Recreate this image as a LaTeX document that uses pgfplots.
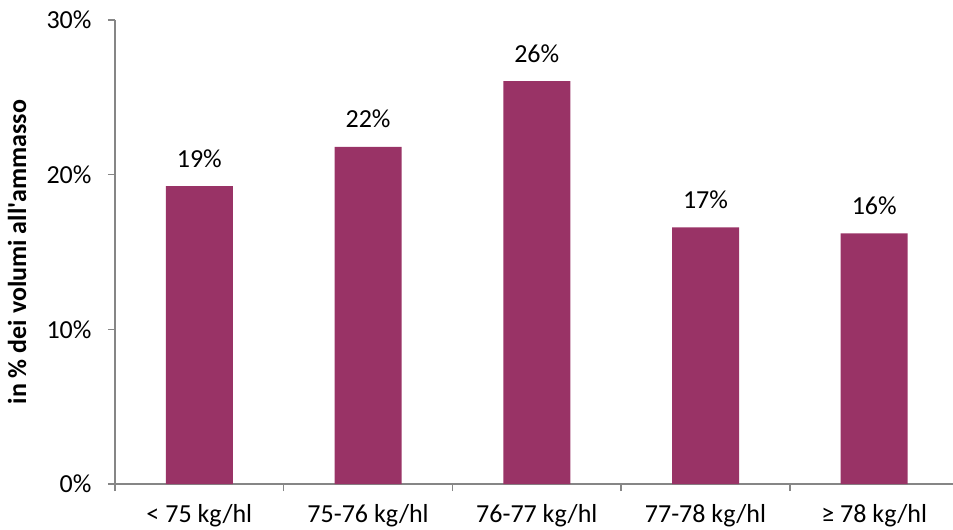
\documentclass[border=0pt]{standalone}
\usepackage{pgfplots}
\pgfplotsset{compat=1.18}
\usepackage{fontspec}
\setmainfont{Carlito}
\definecolor{barcol}{HTML}{993366}
\definecolor{axcol}{HTML}{868686}
\begin{document}
\begin{tikzpicture}[font=\fontsize{26bp}{31bp}\selectfont]
\path[use as bounding box] (-115bp,-46bp) rectangle (838bp,484bp);
\begin{axis}[
  at={(0,0)}, anchor=south west,
  scale only axis,
  width=838bp, height=464bp,
  xmin=-0.5, xmax=4.467,
  ymin=0, ymax=30,
  axis x line*=bottom, axis y line*=left,
  axis line style={axcol, line width=1.5bp},
  every tick/.style={axcol, line width=1.5bp},
  tick align=outside,
  xtick={0,1,2,3,4},
  xticklabels={{< 75 kg/hl},{75-76 kg/hl},{76-77 kg/hl},{77-78 kg/hl},{≥ 78 kg/hl}},
  major x tick style={draw=none},
  minor xtick={-0.5,0.5,1.5,2.5,3.5},
  minor tick length=7bp,
  ytick={0,10,20,30},
  yticklabels={0\%,10\%,20\%,30\%},
  major tick length=7bp,
  xticklabel style={yshift=-10bp},
  yticklabel style={xshift=-13bp},
  ylabel={\bfseries in \% dei volumi all\textquotesingle ammasso},
  every axis y label/.style={at={(axis description cs:-0.106,0.5)}, rotate=90, anchor=base},
  ybar, bar width=67bp,
  point meta=explicit symbolic,
  nodes near coords,
  nodes near coords style={anchor=base, yshift=19bp, black},
  clip=false,
]
\addplot[fill=barcol, draw=none] coordinates {
  (0,19.26) [19\%]
  (1,21.8) [22\%]
  (2,26.05) [26\%]
  (3,16.6) [17\%]
  (4,16.2) [16\%]
};
\end{axis}
\end{tikzpicture}
\end{document}
